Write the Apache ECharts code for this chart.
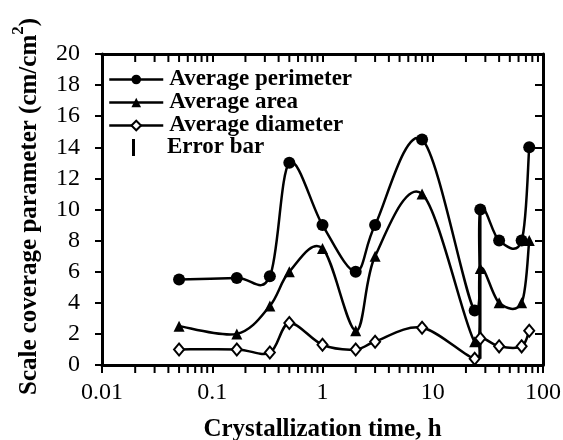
<!DOCTYPE html>
<html>
<head>
<meta charset="utf-8">
<script src="https://cdn.jsdelivr.net/npm/echarts@6/dist/echarts.min.js"></script>
<style>
html,body{margin:0;padding:0;background:#fff;}
#c{width:563px;height:440px;}
</style>
</head>
<body>
<div id="c"></div>
<script>
// ---- data ----
var timeH = [0.05, 0.167, 0.333, 0.5, 1, 2, 3, 8, 24, 27, 40, 64, 75];
var perimeter = [5.5, 5.6, 5.7, 13.0, 9.0, 6.0, 9.0, 14.5, 3.5, 10.0, 8.0, 8.0, 14.0];
var area = [2.5, 2.0, 3.8, 6.0, 7.5, 2.2, 7.0, 11.0, 1.5, 6.2, 4.0, 4.0, 8.0];
var diameter = [1.0, 1.0, 0.8, 2.7, 1.3, 1.0, 1.5, 2.4, 0.4, 1.7, 1.2, 1.2, 2.2];
var errX = [27];
var errLow = [0.4];
var errHigh = [10.0];
var seriesNames = ['Average perimeter', 'Average area', 'Average diameter'];
var errName = 'Error bar';
var yTicks = [0, 2, 4, 6, 8, 10, 12, 14, 16, 18, 20];
var xDecades = [0.01, 0.1, 1, 10, 100];

// minor tick positions on the log axis (2..9 within each decade)
var minorTicks = [];
for (var d = 0; d < xDecades.length - 1; d++) {
  for (var m = 2; m <= 9; m++) minorTicks.push([xDecades[d] * m, 1]);
}

function zip(xs, ys) { return xs.map(function (x, i) { return [x, ys[i]]; }); }

var FONT = 'Liberation Serif';
var chart = echarts.init(document.getElementById('c'), null, {renderer: 'canvas'});

// smooth (Catmull-Rom) curve segment from point i to i+1, in pixel space
function splineItem(params, api) {
  var i = params.dataIndexInside;
  var n = params.dataInsideLength;
  if (i >= n - 1) return null;
  function P(j) {
    j = Math.max(0, Math.min(n - 1, j));
    return api.coord([api.value(0, j), api.value(1, j)]);
  }
  var p0 = P(i - 1), p1 = P(i), p2 = P(i + 1), p3 = P(i + 2);
  var k = 1 / 6;
  return {
    type: 'bezierCurve',
    shape: {
      x1: p1[0], y1: p1[1], x2: p2[0], y2: p2[1],
      cpx1: p1[0] + (p2[0] - p0[0]) * k, cpy1: p1[1] + (p2[1] - p0[1]) * k,
      cpx2: p2[0] - (p3[0] - p1[0]) * k, cpy2: p2[1] - (p3[1] - p1[1]) * k
    },
    style: {stroke: '#000', lineWidth: 2.5, fill: null}
  };
}

function curveSeries(vals) {
  return {
    type: 'custom',
    silent: true,
    clip: false,
    data: zip(timeH, vals),
    encode: {x: 0, y: 1},
    renderItem: splineItem,
    z: 2
  };
}

var legendText = {fontFamily: FONT, fontSize: 23, fontWeight: 'bold', color: '#000', lineHeight: 22};

var option = {
  backgroundColor: '#fff',
  animation: false,
  textStyle: {fontFamily: FONT, color: '#000'},
  grid: {left: 102, right: 20, top: 54, bottom: 75, containLabel: false, outerBoundsMode: 'none'},
  legend: [{
    orient: 'vertical',
    left: 103,
    top: 63,
    itemWidth: 54,
    itemHeight: 12,
    itemGap: 0,
    data: seriesNames,
    lineStyle: {color: '#000', width: 2.5, opacity: 1},
    textStyle: Object.assign({padding: [0, 0, 0, 1]}, legendText)
  }, {
    orient: 'vertical',
    left: 103,
    top: 131,
    itemWidth: 54,
    itemHeight: 17,
    data: [{name: errName, icon: 'path://M0,0h0.01v0.01h-0.01z M24,0h3v17h-3z M53.99,16.99h0.01v0.01h-0.01z'}],
    textStyle: Object.assign({padding: [0, 0, 0, 0]}, legendText)
  }],
  xAxis: [{
    type: 'log',
    logBase: 10,
    min: xDecades[0],
    max: xDecades[xDecades.length - 1],
    position: 'bottom',
    name: 'Crystallization time, h',
    nameLocation: 'middle',
    nameGap: 52,
    nameTextStyle: {fontFamily: FONT, fontSize: 25, fontWeight: 'bold', color: '#000'},
    axisLine: {show: true, onZero: false, lineStyle: {color: '#000', width: 3}},
    axisTick: {show: true, inside: false, length: 8, lineStyle: {color: '#000', width: 2}},
    axisLabel: {fontFamily: FONT, fontSize: 24, color: '#000', margin: 16},
    splitLine: {show: false}
  }, {
    type: 'log',
    logBase: 10,
    min: xDecades[0],
    max: xDecades[xDecades.length - 1],
    position: 'top',
    axisLine: {show: true, onZero: false, lineStyle: {color: '#000', width: 3}},
    axisTick: {show: true, inside: true, length: 8, lineStyle: {color: '#000', width: 2}},
    axisLabel: {show: false},
    splitLine: {show: false}
  }],
  yAxis: [{
    type: 'value',
    min: yTicks[0],
    max: yTicks[yTicks.length - 1],
    interval: 2,
    position: 'left',
    name: '{n|Scale coverage parameter (cm/cm}{s|2}{n|)}',
    nameLocation: 'middle',
    nameGap: 60,
    nameTextStyle: {
      fontFamily: FONT, fontWeight: 'bold', color: '#000',
      padding: [0, 0, 0, 6],
      rich: {
        n: {fontFamily: FONT, fontSize: 25, fontWeight: 'bold', color: '#000', lineHeight: 32, verticalAlign: 'bottom'},
        s: {fontFamily: FONT, fontSize: 17, fontWeight: 'bold', color: '#000', lineHeight: 32, verticalAlign: 'top'}
      }
    },
    axisLine: {show: true, onZero: false, lineStyle: {color: '#000', width: 3}},
    axisTick: {show: true, inside: false, length: 7, lineStyle: {color: '#000', width: 2}},
    axisLabel: {fontFamily: FONT, fontSize: 24, color: '#000', margin: 22},
    splitLine: {show: false}
  }, {
    type: 'value',
    min: yTicks[0],
    max: yTicks[yTicks.length - 1],
    interval: 2,
    position: 'right',
    axisLine: {show: true, onZero: false, lineStyle: {color: '#000', width: 3}},
    axisTick: {show: true, inside: true, length: 8, lineStyle: {color: '#000', width: 2}},
    axisLabel: {show: false},
    splitLine: {show: false}
  }],
  series: [{
    name: seriesNames[0],
    type: 'line',
    data: zip(timeH, perimeter),
    symbol: 'circle',
    symbolSize: 12,
    itemStyle: {color: '#000'},
    lineStyle: {color: '#000', width: 2.5, opacity: 0},
    z: 4
  }, {
    name: seriesNames[1],
    type: 'line',
    data: zip(timeH, area),
    symbol: 'triangle',
    symbolSize: 11,
    itemStyle: {color: '#000'},
    lineStyle: {color: '#000', width: 2.5, opacity: 0},
    z: 4
  }, {
    name: seriesNames[2],
    type: 'line',
    data: zip(timeH, diameter),
    symbol: 'diamond',
    symbolSize: [10, 12],
    itemStyle: {color: '#fff', borderColor: '#000', borderWidth: 2},
    lineStyle: {color: '#000', width: 2.5, opacity: 0},
    z: 4
  },
  curveSeries(perimeter),
  curveSeries(area),
  curveSeries(diameter),
  {
    name: errName,
    type: 'custom',
    itemStyle: {color: '#000'},
    data: errX.map(function (x, i) { return [x, errLow[i], errHigh[i]]; }),
    encode: {x: 0, y: [1, 2]},
    renderItem: function (params, api) {
      var a = api.coord([api.value(0), api.value(1)]);
      var b = api.coord([api.value(0), api.value(2)]);
      return {type: 'line', shape: {x1: a[0], y1: a[1], x2: b[0], y2: b[1]},
        style: {stroke: '#000', lineWidth: 2.5}};
    },
    z: 2
  }, {
    name: 'minorTicks',
    type: 'custom',
    silent: true,
    clip: false,
    data: minorTicks,
    encode: {x: 0, y: 1},
    renderItem: function (params, api) {
      var cs = params.coordSys;
      var p = api.coord([api.value(0), api.value(1)]);
      var yb = cs.y + cs.height;
      return {type: 'group', children: [
        {type: 'line', shape: {x1: p[0], y1: yb, x2: p[0], y2: yb + 8}, style: {stroke: '#000', lineWidth: 2}},
        {type: 'line', shape: {x1: p[0], y1: cs.y, x2: p[0], y2: cs.y + 8}, style: {stroke: '#000', lineWidth: 2}}
      ]};
    },
    z: 1
  }]
};
chart.setOption(option);
</script>
</body>
</html>
